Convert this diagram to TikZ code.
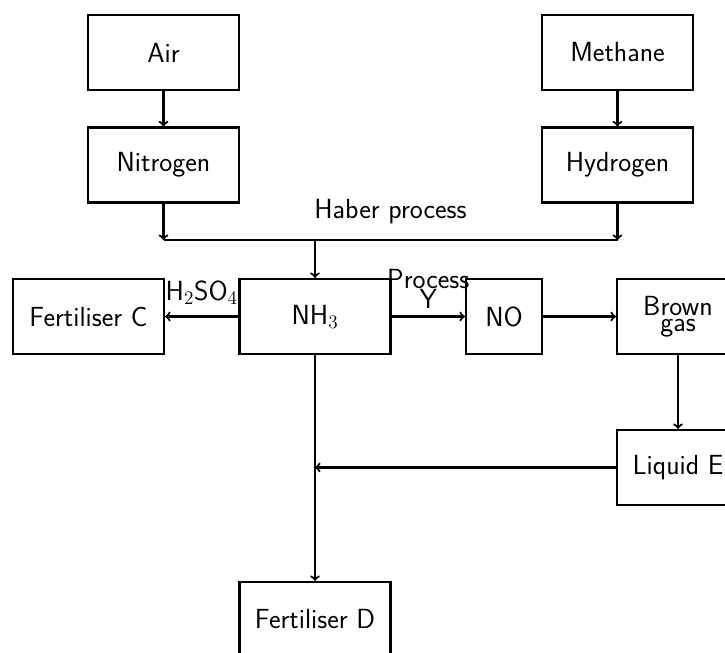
\documentclass[tikz,border=0pt]{standalone}
\usepackage{fontspec}
\newcommand{\tightlines}{\setlength{\baselineskip}{12pt}}
\begin{document}
\begin{tikzpicture}[x=0.75pt,y=-0.75pt,
  box/.style={draw, line width=1.6pt, minimum width=113.25pt, minimum height=56.25pt,
    inner sep=2pt, font=\huge\sffamily, align=center},
  conn/.style={line width=1.6pt},
  arr/.style={conn,->},
  lbl/.style={font=\huge\sffamily, inner sep=0pt, align=center},
  tight/.style={font={\huge\sffamily\tightlines}}]
\useasboundingbox (0,0) rectangle (725,653);
\node[box] (air) at (163.5,52.5) {Air};
\node[box] (methane) at (617.5,52.5) {Methane};
\node[box] (nitrogen) at (163.5,165) {Nitrogen};
\node[box] (hydrogen) at (617.5,165) {Hydrogen};
\node[box] (nh3) at (315,316.5) {NH$_3$};
\node[box] (fertC) at (88.5,316.5) {Fertiliser C};
\node[box, minimum width=57pt] (no) at (504,316.5) {NO};
\node[box, minimum width=91.5pt, tight] (brown) at (678,316.5) {Brown\\gas};
\node[box, minimum width=91.5pt] (liquidE) at (678,467.5) {Liquid E};
\node[box] (fertD) at (315,619.5) {Fertiliser D};

\coordinate (hjL) at (163.5,240);
\coordinate (hjR) at (617.5,240);
\coordinate (hjM) at (315,240);
\coordinate (jE) at (nh3.south |- liquidE.west);

\draw[arr] (air) -- (nitrogen);
\draw[arr] (methane) -- (hydrogen);
\draw[arr] (nitrogen) -- (hjL);
\draw[arr] (hydrogen) -- (hjR);
\draw[conn] (hjL) -- node[lbl, anchor=base, yshift=16pt] {Haber process} (hjR);
\draw[arr] (hjM) -- (nh3);
\draw[arr] (nh3) -- node[lbl, anchor=base, yshift=12pt] {H$_2$SO$_4$} (fertC);
\draw[arr] (nh3) -- node[lbl, tight, anchor=south, yshift=5pt] {Process\\Y} (no);
\draw[arr] (no) -- (brown);
\draw[arr] (brown) -- (liquidE);
\draw[arr] (liquidE) -- (jE);
\draw[arr] (nh3) -- (fertD);
\end{tikzpicture}
\end{document}
